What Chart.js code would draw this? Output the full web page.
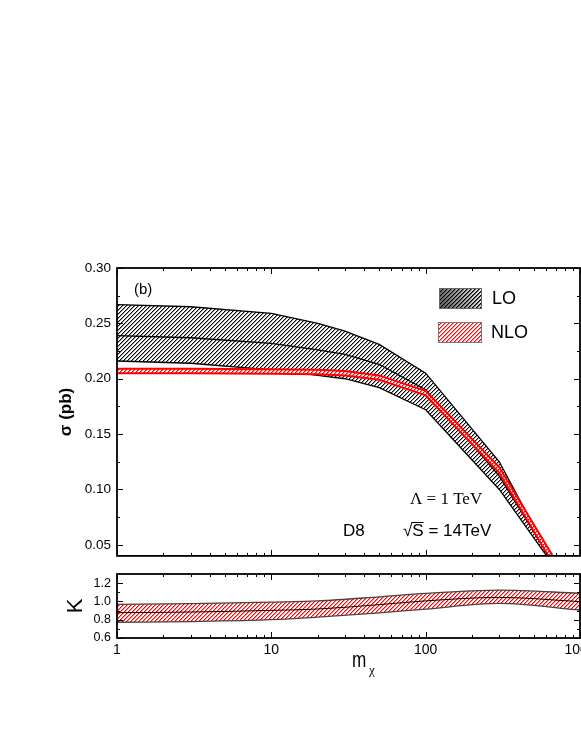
<!DOCTYPE html>
<html lang="en">
<head>
<meta charset="UTF-8">
<title>D8 cross section, LO and NLO</title>
<script src="https://cdn.jsdelivr.net/npm/chart.js@4.4.1/dist/chart.umd.min.js"></script>
<style>
  html, body { margin: 0; padding: 0; background: #fff; overflow: hidden; }
  #wrap { position: relative; width: 581px; height: 752px; overflow: hidden; background: #fff; }
  canvas { position: absolute; left: 0; top: 0; }
</style>
</head>
<body>
<div id="wrap">
  <canvas id="sigma" width="700" height="570"></canvas>
  <canvas id="kfac" width="700" height="700"></canvas>
</div>
<script>
// dark matter mass (GeV) and cross sections (pb)
const mass  = [1, 3, 10, 20, 30, 50, 100, 300, 700];
const loUp  = [0.267, 0.265, 0.259, 0.250, 0.243, 0.231, 0.205, 0.125, 0.029];
const loMid = [0.239, 0.237, 0.232, 0.226, 0.222, 0.213, 0.190, 0.112, 0.029];
const loLow = [0.216, 0.214, 0.208, 0.203, 0.200, 0.192, 0.172, 0.100, 0.028];
const nloUp  = [0.209, 0.209, 0.2085, 0.208, 0.207, 0.203, 0.189, 0.120, 0.035];
const nloLow = [0.205, 0.205, 0.2045, 0.204, 0.203, 0.199, 0.185, 0.115, 0.028];

// K factor
const kMass = [1, 3, 10, 20, 50, 100, 300, 1000];
const kUp  = [0.968, 0.975, 0.992, 1.005, 1.050, 1.088, 1.124, 1.089];
const kMid = [0.877, 0.884, 0.902, 0.917, 0.965, 1.006, 1.044, 0.998];
const kLow = [0.772, 0.780, 0.800, 0.828, 0.875, 0.916, 0.978, 0.906];

const sigmaTicks = [0.05, 0.10, 0.15, 0.20, 0.25, 0.30];
const sigmaMinor = [0.075, 0.125, 0.175, 0.225, 0.275];
const kTicks = [0.6, 0.8, 1.0, 1.2];
const kMinor = [0.7, 0.9, 1.1];
const massTicks = [1, 10, 100, 1000];

const SANS = '"Liberation Sans", Arial, sans-serif';
const SERIF = '"Liberation Serif", "Times New Roman", serif';
Chart.defaults.font.family = SANS;
Chart.defaults.color = '#000';

// pixel diagonal hatch "/" : solid stripe plus a softer neighbour pixel
function hatch(color, soft, bg, size) {
  const c = document.createElement('canvas');
  c.width = c.height = size;
  const g = c.getContext('2d');
  if (bg) { g.fillStyle = bg; g.fillRect(0, 0, size, size); }
  for (let i = 0; i < size; i++) {
    g.fillStyle = color;
    g.fillRect(i, size - 1 - i, 1, 1);
    if (soft) {
      g.fillStyle = soft;
      g.fillRect(i, (size - i) % size, 1, 1);
    }
  }
  return g.createPattern(c, 'repeat');
}
const loHatch = hatch('#000', '#999', '#fff', 4);
const nloHatch = hatch('#ff0000', '#ff8080', '#fff', 4);
const kHatch = hatch('#ff0000', '#ff8a8a', '#fff', 4);
const loHatchClear = hatch('#000', '#555', null, 4);
const redHatchClear = hatch('#ff0000', '#ff9090', null, 4);

const pts = (xs, ys) => xs.map((x, i) => ({ x: x, y: ys[i] }));

// frame with inward ticks on all four sides
function drawFrame(chart, yMajor, yMinor) {
  const { ctx, chartArea: a, scales: { x, y } } = chart;
  const xMinor = [];
  for (let d = 1; d < 1000; d *= 10) for (let k = 2; k <= 9; k++) xMinor.push(d * k);
  ctx.save();
  ctx.strokeStyle = '#000';
  ctx.lineWidth = 1;
  ctx.beginPath();
  const xt = (v, len) => {
    const p = Math.round(x.getPixelForValue(v)) + 0.5;
    ctx.moveTo(p, a.bottom); ctx.lineTo(p, a.bottom - len);
    ctx.moveTo(p, a.top); ctx.lineTo(p, a.top + len);
  };
  const yt = (v, len) => {
    const p = Math.round(y.getPixelForValue(v)) + 0.5;
    ctx.moveTo(a.left, p); ctx.lineTo(a.left + len, p);
    ctx.moveTo(a.right, p); ctx.lineTo(a.right - len, p);
  };
  massTicks.forEach(v => xt(v, 6));
  xMinor.forEach(v => xt(v, 3));
  yMajor.forEach(v => yt(v, 6));
  yMinor.forEach(v => yt(v, 3));
  ctx.stroke();
  ctx.lineWidth = 1.8;
  ctx.strokeRect(a.left, a.top, a.right - a.left, a.bottom - a.top);
  ctx.restore();
}

const sigmaDecor = {
  id: 'sigmaDecor',
  afterDraw(chart) {
    drawFrame(chart, sigmaTicks, sigmaMinor);
    const ctx = chart.ctx;
    ctx.save();
    ctx.fillStyle = '#000';
    ctx.textBaseline = 'alphabetic';
    ctx.font = '15px ' + SANS;
    ctx.fillText('(b)', 134, 294);

    // legend
    const grad = ctx.createLinearGradient(439, 308, 481, 288);
    grad.addColorStop(0, '#555');
    grad.addColorStop(1, '#f4f4f4');
    ctx.fillStyle = grad;
    ctx.fillRect(439, 288, 42, 20);
    ctx.fillStyle = loHatchClear;
    ctx.fillRect(439, 288, 42, 20);
    ctx.strokeStyle = '#666';
    ctx.lineWidth = 1;
    ctx.strokeRect(439.5, 288.5, 42, 20);
    ctx.fillStyle = '#fff';
    ctx.fillRect(438, 322, 43, 20);
    ctx.fillStyle = redHatchClear;
    ctx.fillRect(438, 322, 43, 20);
    ctx.strokeStyle = '#777';
    ctx.strokeRect(438.5, 322.5, 43, 20);
    ctx.fillStyle = '#000';
    ctx.font = '18px ' + SANS;
    ctx.fillText('LO', 492, 304);
    ctx.fillText('NLO', 491, 338);

    // labels
    ctx.font = '17px ' + SERIF;
    ctx.fillText('\u039B = 1 TeV', 410, 504);
    ctx.font = '17px ' + SANS;
    ctx.fillText('D8', 343, 536);
    const sx = 403;
    ctx.fillText('\u221AS = 14TeV', sx, 536);
    const wr = ctx.measureText('\u221A').width;
    const ws = ctx.measureText('\u221AS').width;
    ctx.lineWidth = 1;
    ctx.strokeStyle = '#000';
    ctx.beginPath();
    ctx.moveTo(sx + wr - 1, 522.5);
    ctx.lineTo(sx + ws, 522.5);
    ctx.stroke();
    ctx.restore();
  }
};

const kDecor = {
  id: 'kDecor',
  afterDraw(chart) {
    drawFrame(chart, kTicks, kMinor);
    const ctx = chart.ctx;
    ctx.save();
    ctx.fillStyle = '#000';
    ctx.translate(352, 667);
    ctx.scale(0.78, 1);
    ctx.font = '22px ' + SANS;
    ctx.fillText('m', 0, 0);
    ctx.restore();
    ctx.save();
    ctx.fillStyle = '#000';
    ctx.font = '13px ' + SERIF;
    ctx.fillText('\u03C7', 369, 674);
    ctx.restore();
  }
};

const lineBase = { pointRadius: 0, tension: 0, borderWidth: 1.3 };

// higher order is drawn first: band fill, then its edge lines
new Chart(document.getElementById('sigma'), {
  type: 'line',
  data: {
    datasets: [
      { ...lineBase, data: pts(mass, nloUp), borderColor: '#ff0000', borderWidth: 2, fill: 1, backgroundColor: nloHatch, order: 1 },
      { ...lineBase, data: pts(mass, nloLow), borderColor: '#ff0000', borderWidth: 2, fill: false, order: 0 },
      { ...lineBase, data: pts(mass, loUp), borderColor: '#000', fill: 4, backgroundColor: loHatch, order: 3 },
      { ...lineBase, data: pts(mass, loMid), borderColor: '#000', fill: false, order: 2 },
      { ...lineBase, data: pts(mass, loLow), borderColor: '#000', fill: false, order: 2 }
    ]
  },
  options: {
    responsive: false,
    animation: false,
    events: [],
    layout: { padding: { left: 56, top: 268, right: 120, bottom: 7 } },
    plugins: { legend: { display: false }, tooltip: { enabled: false } },
    scales: {
      x: { type: 'logarithmic', min: 1, max: 1000, display: false },
      y: {
        min: 0.04, max: 0.30,
        grid: { display: false, drawTicks: false, tickLength: 0 },
        border: { display: false },
        afterBuildTicks: s => { s.ticks = sigmaTicks.map(v => ({ value: v })); },
        afterFit: s => { s.width = 117 - 56; },
        ticks: { autoSkip: false, padding: 6, font: { size: 13.5 }, callback: v => Number(v).toFixed(2) },
        title: { display: true, text: '\u03C3 (pb)', padding: 0, font: { size: 17, weight: 'bold' } }
      }
    }
  },
  plugins: [sigmaDecor]
});

new Chart(document.getElementById('kfac'), {
  type: 'line',
  data: {
    datasets: [
      { ...lineBase, data: pts(kMass, kUp), borderColor: '#444', cubicInterpolationMode: 'monotone', fill: 2, backgroundColor: kHatch, order: 1 },
      { ...lineBase, data: pts(kMass, kMid), borderColor: '#000', borderWidth: 1, cubicInterpolationMode: 'monotone', fill: false, order: 0 },
      { ...lineBase, data: pts(kMass, kLow), borderColor: '#444', cubicInterpolationMode: 'monotone', fill: false, order: 0 }
    ]
  },
  options: {
    responsive: false,
    animation: false,
    events: [],
    layout: { padding: { left: 63, top: 574, right: 120, bottom: 0 } },
    plugins: { legend: { display: false }, tooltip: { enabled: false } },
    scales: {
      x: {
        type: 'logarithmic', min: 1, max: 1000,
        grid: { display: false, drawTicks: false, tickLength: 0 },
        border: { display: false },
        afterBuildTicks: s => { s.ticks = massTicks.map(v => ({ value: v })); },
        afterFit: s => { s.height = 700 - 638; },
        ticks: { autoSkip: false, maxRotation: 0, padding: 4, font: { size: 14 }, callback: v => String(v) }
      },
      y: {
        min: 0.6, max: 1.3,
        grid: { display: false, drawTicks: false, tickLength: 0 },
        border: { display: false },
        afterBuildTicks: s => { s.ticks = kTicks.map(v => ({ value: v })); },
        afterFit: s => { s.width = 117 - 63; },
        ticks: { autoSkip: false, padding: 6, font: { size: 12.5 }, callback: v => Number(v).toFixed(1) },
        title: { display: true, text: 'K', padding: 0, font: { size: 22 } }
      }
    }
  },
  plugins: [kDecor]
});
</script>
</body>
</html>
